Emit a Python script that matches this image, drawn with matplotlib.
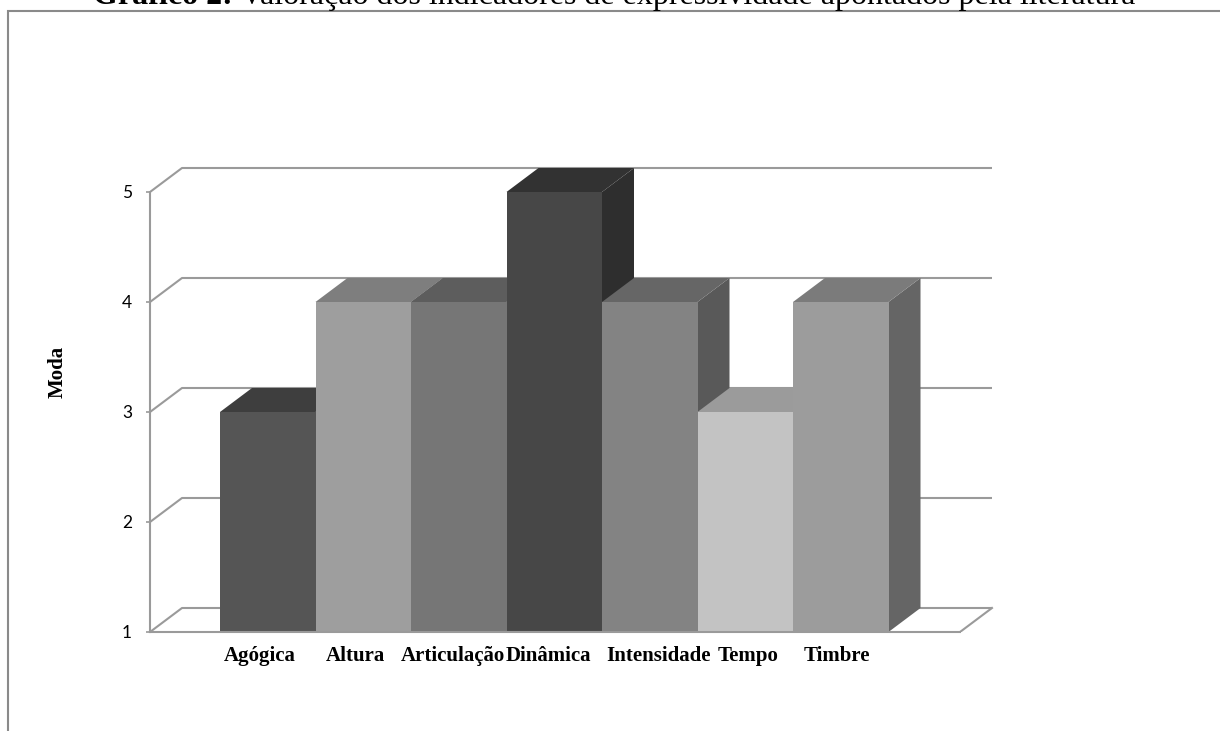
import matplotlib.pyplot as plt
from matplotlib.patches import Polygon, Rectangle
from matplotlib.transforms import ScaledTranslation

# -------------------------
# Data
# -------------------------
categorias = ["Agógica", "Altura", "Articulação", "Dinâmica",
              "Intensidade", "Tempo", "Timbre"]
moda = [3, 4, 4, 5, 4, 3, 4]
y_ticks = [1, 2, 3, 4, 5]

titulo_negrito = "Gráfico 2:"
titulo_resto = " Valoração dos indicadores de expressividade apontados pela literatura"

# grey shades (front, top, side) per bar
cor_frente = ["#555555", "#9e9e9e", "#767676", "#474747", "#838383", "#c3c3c3", "#9c9c9c"]
cor_topo = ["#3e3e3e", "#7e7e7e", "#5d5d5d", "#323232", "#666666", "#9b9b9b", "#7b7b7b"]
cor_lado = ["#383838", "#6c6c6c", "#505050", "#2e2e2e", "#595959", "#8a8a8a", "#656565"]
# small horizontal nudges (px) of the category labels, as placed in the source
desloc_rotulo = [-8, -8, -6, -6, 9, 3, -4]

GRID = "#9a9a9a"
SERIF = "Liberation Serif"

W, H = 1220, 731
fig = plt.figure(figsize=(W / 100, H / 100), dpi=100)

# -------------------------
# Axes (pixel box of the front plane)
# -------------------------
px_unit_x, px_unit_y = 95.5, 110.0
ax = fig.add_axes([150 / W, (H - 632) / H, 850 / W, 484 / H])
x_left = (150 - 220) / px_unit_x
x_right = (960 - 220) / px_unit_x
ax.set_xlim(x_left, x_left + 850 / px_unit_x)
ax.set_ylim(1, 1 + 484 / px_unit_y)
ax.patch.set_visible(False)

DX, DY = 32 / px_unit_x, 24 / px_unit_y  # depth of the 3D look

# back wall grid + floor
for v in y_ticks:
    ax.plot([x_left, x_left + DX, x_right + DX], [v, v + DY, v + DY],
            color=GRID, lw=1.5, zorder=1, solid_capstyle="butt")
ax.plot([x_right, x_right + DX], [1, 1 + DY], color=GRID, lw=1.5, zorder=1)

# bars, left to right so later ones cover the sides of the earlier ones
for i, v in enumerate(moda):
    z = 3 + i * 0.1
    lado = Polygon([(i + 1, 1), (i + 1, v), (i + 1 + DX, v + DY), (i + 1 + DX, 1 + DY)],
                   closed=True, facecolor=cor_lado[i], edgecolor="none", zorder=z)
    topo = Polygon([(i, v), (i + 1, v), (i + 1 + DX, v + DY), (i + DX, v + DY)],
                   closed=True, facecolor=cor_topo[i], edgecolor="none", zorder=z)
    ax.add_patch(lado)
    ax.add_patch(topo)
    ax.bar(i, v - 1, bottom=1, width=1.0, align="edge",
           color=cor_frente[i], edgecolor="none", zorder=z)

# axis lines
for s in ["top", "right"]:
    ax.spines[s].set_visible(False)
ax.spines["left"].set_bounds(1, 5)
ax.spines["bottom"].set_bounds(x_left, x_right)
for s in ["left", "bottom"]:
    ax.spines[s].set_color(GRID)
    ax.spines[s].set_linewidth(1.5)
    ax.spines[s].set_zorder(5)

ax.set_yticks(y_ticks)
ax.set_yticklabels([str(t) for t in y_ticks], fontfamily="Lato", fontsize=12.5)
ax.tick_params(axis="y", length=3, width=1.2, color=GRID, pad=10)

ax.set_xticks([i + 0.5 for i in range(len(categorias))])
ax.set_xticklabels(categorias, fontfamily=SERIF, fontweight="bold", fontsize=15)
ax.tick_params(axis="x", length=0, pad=10)
for lbl, d in zip(ax.get_xticklabels(), desloc_rotulo):
    lbl.set_transform(lbl.get_transform() + ScaledTranslation(d / 100, 0, fig.dpi_scale_trans))

fig.text(58 / W, 1 - 372 / H, "Moda", rotation=90, ha="center", va="center",
         fontfamily=SERIF, fontweight="bold", fontsize=15)

# -------------------------
# Frame and title (title cut off at the top, as in the source)
# -------------------------
fig.patches.append(Rectangle((8 / W, -0.1), 1.2, 1.1 - 11 / H, transform=fig.transFigure,
                             fill=False, edgecolor="#8a8a8a", lw=1.5))

fig.canvas.draw()
r = fig.canvas.get_renderer()
t1 = fig.text(0, 1 - 4 / H, titulo_negrito, ha="left", va="baseline",
              fontfamily=SERIF, fontweight="bold", fontsize=23)
t2 = fig.text(0, 1 - 4 / H, titulo_resto, ha="left", va="baseline",
              fontfamily=SERIF, fontsize=23)
w1 = t1.get_window_extent(r).width
w2 = t2.get_window_extent(r).width
x0 = 614 - (w1 + w2) / 2
t1.set_x(x0 / W)
t2.set_x((x0 + w1) / W)

plt.savefig("out.png", dpi=100)
